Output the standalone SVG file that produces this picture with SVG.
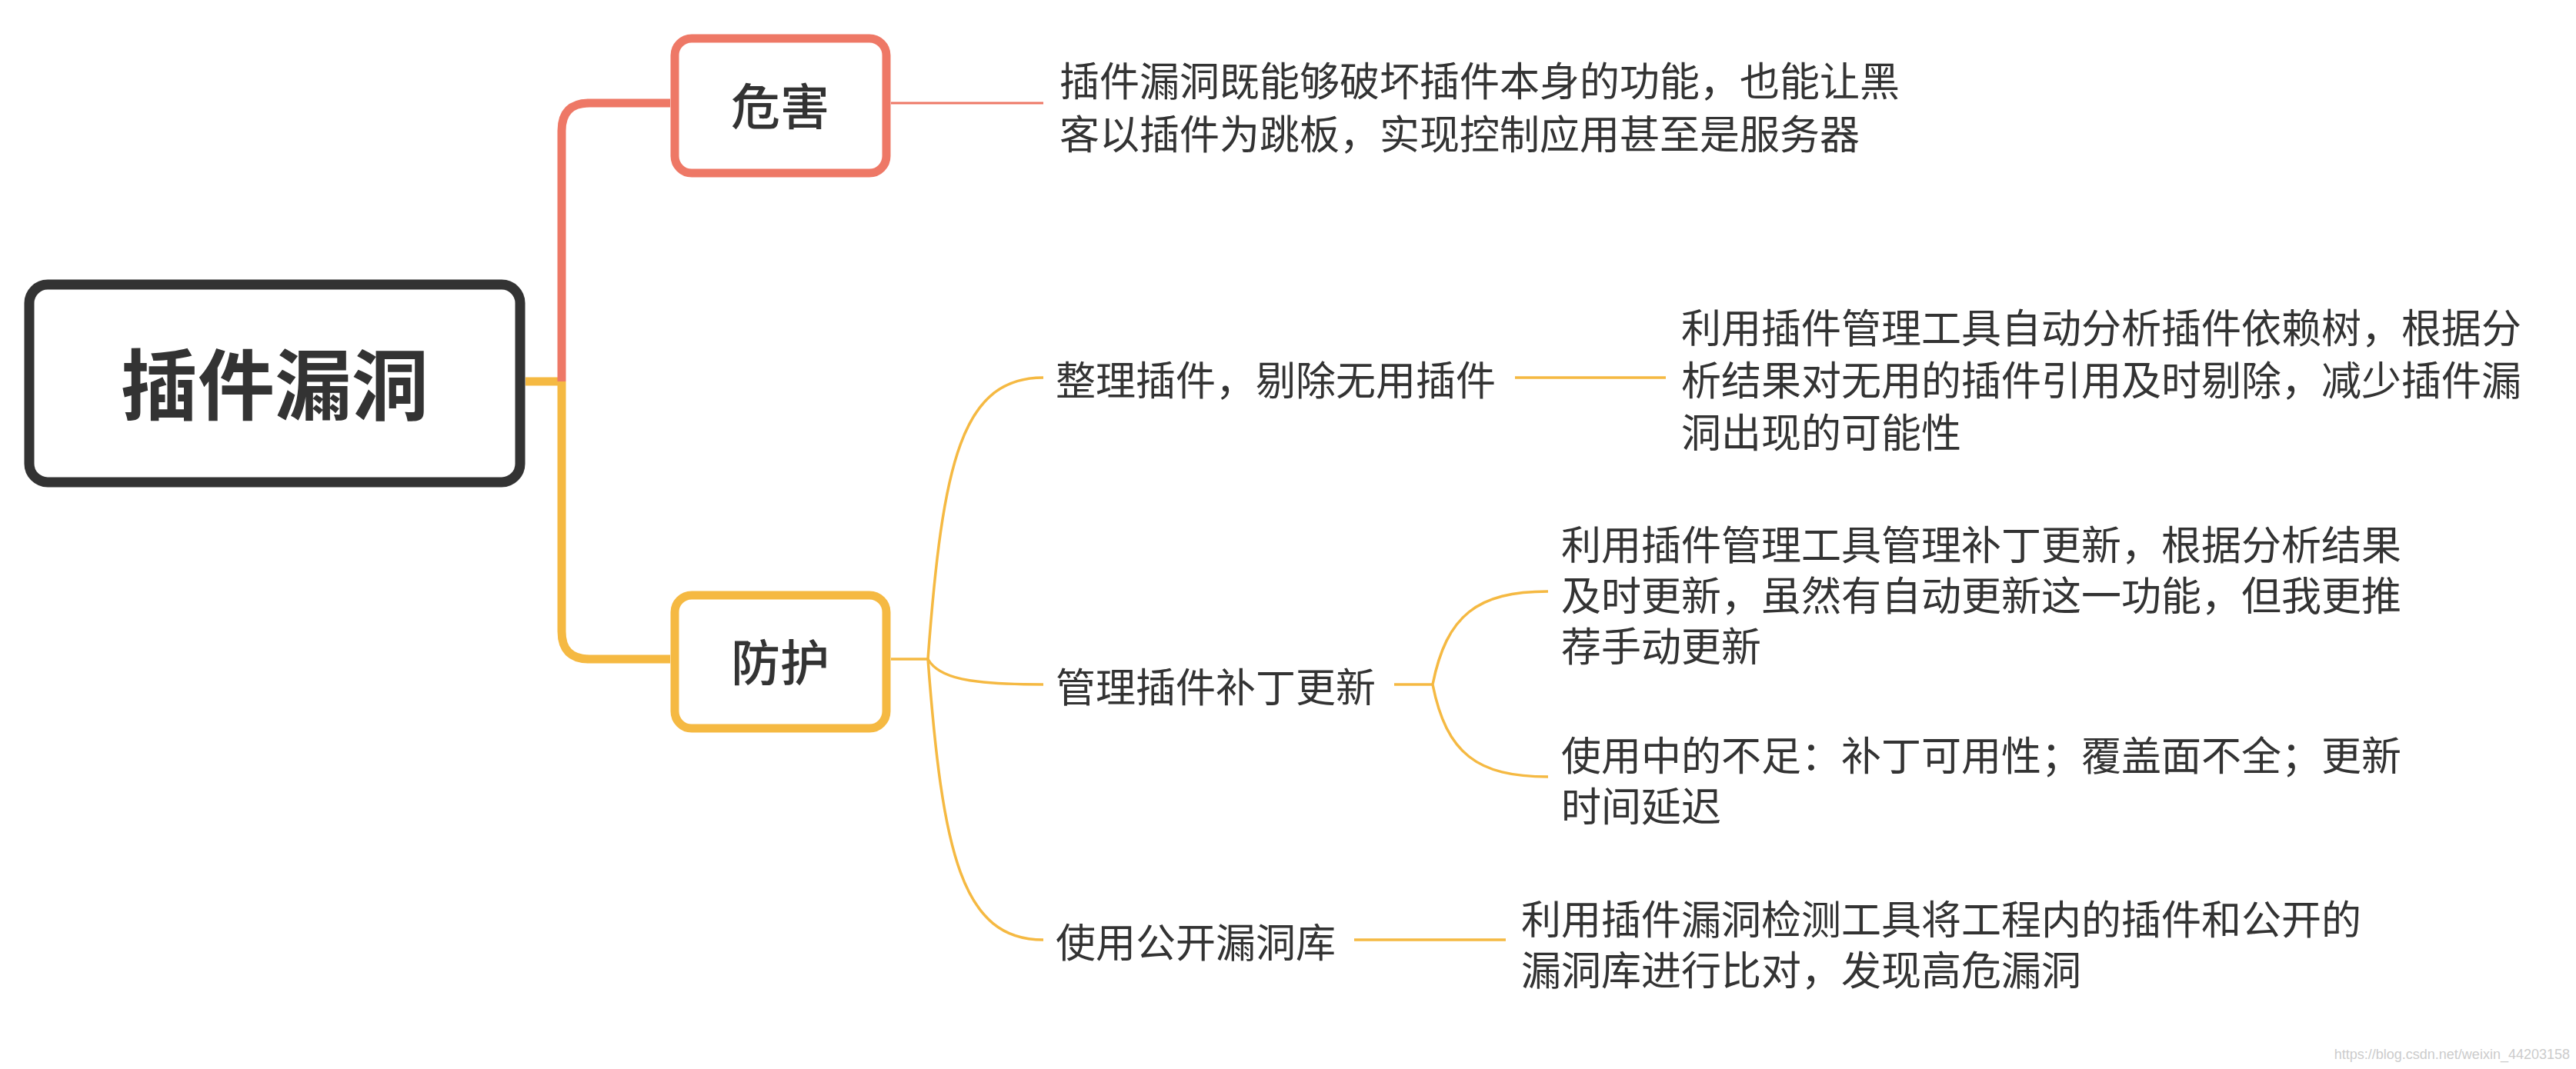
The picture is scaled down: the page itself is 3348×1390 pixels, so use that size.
<svg xmlns="http://www.w3.org/2000/svg" width="3348" height="1390" viewBox="0 0 3348 1390">
<style>
text{font-family:"Noto Sans CJK SC","Liberation Sans",sans-serif;fill:#333;dominant-baseline:central}
.t{font-size:52px}
.n{font-size:64px;text-anchor:middle;font-weight:500}
.c{fill:none}
</style>
<rect width="3348" height="1390" fill="#fff"/>
<g id="connectors" class="c">
<path d="M683 496 H730" stroke="#F5B942" stroke-width="11"/>
<path d="M730 496 V170 Q730 134 766 134 H871" stroke="#EE7866" stroke-width="11" fill="none"/>
<path d="M730 496 V821 Q730 857 766 857 H871" stroke="#F5B942" stroke-width="11" fill="none"/>
<path d="M1158 134 H1356" stroke="#EE7866" stroke-width="3" fill="none"/>
<g stroke="#F5B942" stroke-width="3.5" fill="none">
<path d="M1158 857 H1206"/>
<path d="M1206 857 C1225 600 1250 491 1356 491"/>
<path d="M1206 857 C1220 882 1260 890 1356 890"/>
<path d="M1206 857 C1225 1110 1250 1222 1356 1222"/>
<path d="M1969 491 H2165"/>
<path d="M1812 890 H1862"/>
<path d="M1862 890 C1880 800 1920 769 2012 769"/>
<path d="M1862 890 C1880 980 1920 1010 2012 1010"/>
<path d="M1760 1222 H1957"/>
</g>
</g>
<g id="root"><rect x="38" y="370" width="638" height="257" rx="24" fill="#fff" stroke="#333" stroke-width="13"/><text x="357" y="494" style="font-size:100px;font-weight:bold" text-anchor="middle">插件漏洞</text></g>
<g id="harm"><rect x="877" y="50" width="275" height="175" rx="22" fill="#fff" stroke="#EE7866" stroke-width="11"/><text class="n" x="1014" y="134">危害</text></g>
<g id="protect"><rect x="877" y="774" width="275" height="173" rx="22" fill="#fff" stroke="#F5B942" stroke-width="11"/><text class="n" x="1014" y="857">防护</text></g>
<g id="harm-desc"><text class="t" x="1377" y="102">插件漏洞既能够破坏插件本身的功能，也能让黑</text><text class="t" x="1377" y="171">客以插件为跳板，实现控制应用甚至是服务器</text></g>
<g id="n1"><text class="t" x="1372" y="491">整理插件，剔除无用插件</text></g>
<g id="n1-desc"><text class="t" x="2185" y="423">利用插件管理工具自动分析插件依赖树，根据分</text><text class="t" x="2185" y="491">析结果对无用的插件引用及时剔除，减少插件漏</text><text class="t" x="2185" y="559">洞出现的可能性</text></g>
<g id="n2"><text class="t" x="1372" y="890">管理插件补丁更新</text></g>
<g id="n2a"><text class="t" x="2029" y="705">利用插件管理工具管理补丁更新，根据分析结果</text><text class="t" x="2029" y="771">及时更新，虽然有自动更新这一功能，但我更推</text><text class="t" x="2029" y="837">荐手动更新</text></g>
<g id="n2b"><text class="t" x="2029" y="979">使用中的不足：补丁可用性；覆盖面不全；更新</text><text class="t" x="2029" y="1045">时间延迟</text></g>
<g id="n3"><text class="t" x="1372" y="1222">使用公开漏洞库</text></g>
<g id="n3-desc"><text class="t" x="1977" y="1192">利用插件漏洞检测工具将工程内的插件和公开的</text><text class="t" x="1977" y="1258">漏洞库进行比对，发现高危漏洞</text></g>
<text x="3340" y="1371" text-anchor="end" style="font-size:18px;fill:#ccc;font-family:'Liberation Sans',sans-serif">https://blog.csdn.net/weixin_44203158</text>
</svg>
